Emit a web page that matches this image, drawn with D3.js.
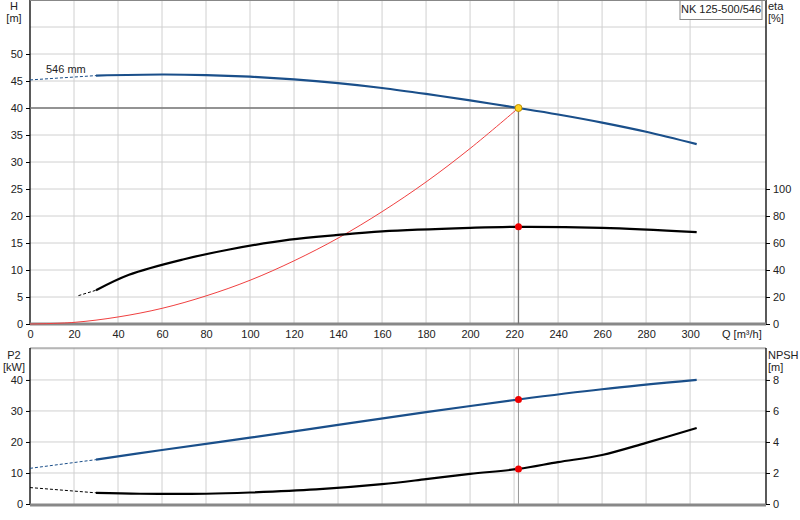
<!DOCTYPE html><html><head><meta charset="utf-8">
<script src="https://cdn.jsdelivr.net/npm/d3@7"></script>
<style>body{margin:0;background:#fff}text{font-family:"Liberation Sans",Arial,sans-serif;font-size:11px;fill:#222}</style></head><body>
<svg id="c" width="800" height="520"></svg>
<script>
const title="NK 125-500/546";
const xTicks=[0,20,40,60,80,100,120,140,160,180,200,220,240,260,280,300];
const hTicks=[0,5,10,15,20,25,30,35,40,45,50];
const etaTicks=[0,20,40,60,80,100];
const p2Ticks=[0,10,20,30,40];
const npshTicks=[0,2,4,6,8];
const hDash=[[0,45.2],[30,46]];
const hCurve=[[30,46],[60,46.2],[80,46.1],[100,45.8],[120,45.3],[140,44.6],[160,43.7],[180,42.6],[200,41.4],[222,40],[240,38.8],[260,37.3],[280,35.6],[303,33.3]];
const etaDash=[[22,21],[30,25]];
const etaCurve=[[30,25],[45,36.5],[70,48],[90,55],[118,62.5],[140,66],[160,68.6],[200,71.2],[222,72],[260,71.2],[303,68]];
const sysCurve=[[0,0],[20,0.3],[40,1.3],[60,2.9],[80,5.2],[100,8.1],[120,11.7],[140,15.9],[160,20.8],[180,26.3],[200,32.5],[222,40]];
const p2Dash=[[0,11.5],[30,14.3]];
const p2Curve=[[30,14.3],[60,17.4],[100,21.4],[140,25.5],[180,29.6],[222,33.7],[260,37],[303,40]];
const npshDash=[[0,1.06],[30,0.72]];
const npshCurve=[[30,0.72],[50,0.66],[80,0.66],[100,0.74],[130,0.94],[160,1.28],[180,1.6],[200,1.94],[222,2.26],[240,2.7],[260,3.16],[280,3.94],[303,4.9]];
const duty={q:222,h:40,eta:72,p2:33.7,npsh:2.26};

const svg=d3.select("#c");
const x=d3.scaleLinear().domain([0,334.5]).range([30,766]);
const yH=d3.scaleLinear().domain([0,60]).range([324,0]);
const yE=d3.scaleLinear().domain([0,240]).range([324,0]);
const yP=d3.scaleLinear().domain([0,50.3]).range([504,348]);
const yN=d3.scaleLinear().domain([0,10.06]).range([504,348]);
const grid="#d0d0d0";
function grids(y,ticks,y0,y1){
  svg.append("g").selectAll("line").data(xTicks.filter(d=>d>0)).join("line").attr("x1",x).attr("x2",x).attr("y1",y0).attr("y2",y1).attr("stroke",grid);
  svg.append("g").selectAll("line").data(ticks).join("line").attr("x1",30).attr("x2",766).attr("y1",y).attr("y2",y).attr("stroke",grid);
}
grids(yH,d3.range(0,61,5),0,324);
grids(yP,[10,20,30,40,50],348,504);
svg.append("line").attr("x1",30).attr("x2",766).attr("y1",348).attr("y2",348).attr("stroke","#888");
const axL=svg.append("g").attr("transform","translate(30,0)").call(d3.axisLeft(yH).tickValues(hTicks).tickSize(4));
const axR=svg.append("g").attr("transform","translate(766,0)").call(d3.axisRight(yE).tickValues(etaTicks).tickSize(4));
const axB=svg.append("g").attr("transform","translate(0,324)").call(d3.axisBottom(x).tickValues(xTicks).tickSize(0).tickPadding(6));
const axL2=svg.append("g").attr("transform","translate(30,0)").call(d3.axisLeft(yP).tickValues(p2Ticks).tickSize(4));
const axR2=svg.append("g").attr("transform","translate(766,0)").call(d3.axisRight(yN).tickValues(npshTicks).tickSize(4));
[axL,axR,axB,axL2,axR2].forEach(a=>{a.selectAll("text").style("font-size","11px").attr("fill","#222");a.select(".domain").attr("stroke","#000").attr("stroke-width",1.3);a.selectAll(".tick line").attr("stroke","#000")});
axR.select(".domain").attr("d","M0,0V324");axR2.select(".domain").attr("d","M0,348V504");
axL.select(".domain").attr("d","M0,0V324");axL2.select(".domain").attr("d","M0,348V504");
axB.select(".domain").attr("stroke","#888").attr("stroke-width",3).attr("d","M30,0H766");
svg.append("line").attr("x1",30).attr("x2",766).attr("y1",505).attr("y2",505).attr("stroke","#888").attr("stroke-width",3);
svg.append("line").attr("x1",30).attr("x2",766).attr("y1",0.5).attr("y2",0.5).attr("stroke","#888");
const lbl=(t,xx,yy,a)=>svg.append("text").attr("x",xx).attr("y",yy).attr("text-anchor",a||"middle").text(t);
lbl("H",14,10);lbl("[m]",14,22);
lbl("eta",768,10,"start");lbl("[%]",768,22,"start");
lbl("P2",14,359);lbl("[kW]",14,371);
lbl("NPSH",768,359,"start");lbl("[m]",768,371,"start");
lbl("Q [m³/h]",722,338,"start");
svg.append("rect").attr("x",680).attr("y",0.5).attr("width",82).attr("height",19).attr("fill","#fff").attr("stroke","#888");
lbl(title,721,13);
lbl("546 mm",46,73,"start");
svg.append("line").attr("x1",x(0)).attr("x2",x(duty.q)).attr("y1",yH(duty.h)).attr("y2",yH(duty.h)).attr("stroke","#777").attr("stroke-width",1.3);
svg.append("line").attr("x1",x(duty.q)).attr("x2",x(duty.q)).attr("y1",yH(duty.h)).attr("y2",324).attr("stroke","#777").attr("stroke-width",1.3);
svg.append("line").attr("x1",x(duty.q)).attr("x2",x(duty.q)).attr("y1",348).attr("y2",504).attr("stroke","#999").attr("stroke-width",1);
const line=(data,y,col,w,dash)=>svg.append("path").datum(data).attr("d",d3.line().x(d=>x(d[0])).y(d=>y(d[1])).curve(d3.curveCatmullRom)).attr("fill","none").attr("stroke",col).attr("stroke-width",w).attr("stroke-dasharray",dash||null);
line(sysCurve,yH,"#f04040",1);
line(hDash,yH,"#1a4f8a",1,"3,2");line(hCurve,yH,"#1a4f8a",2.2);
line(etaDash,yE,"#000",1,"3,2");line(etaCurve,yE,"#000",2.2);
line(p2Dash,yP,"#1a4f8a",1,"3,2");line(p2Curve,yP,"#1a4f8a",2.2);
line(npshDash,yN,"#000",1,"3,2");line(npshCurve,yN,"#000",2.2);
const dot=(v,y,c)=>svg.append("circle").attr("cx",x(duty.q)).attr("cy",y(v)).attr("r",3.5).attr("fill",c).attr("stroke",c==="#ffd21f"?"#c09000":"none");
dot(duty.h,yH,"#ffd21f");dot(duty.eta,yE,"#e00");dot(duty.p2,yP,"#e00");dot(duty.npsh,yN,"#e00");
</script></body></html>
